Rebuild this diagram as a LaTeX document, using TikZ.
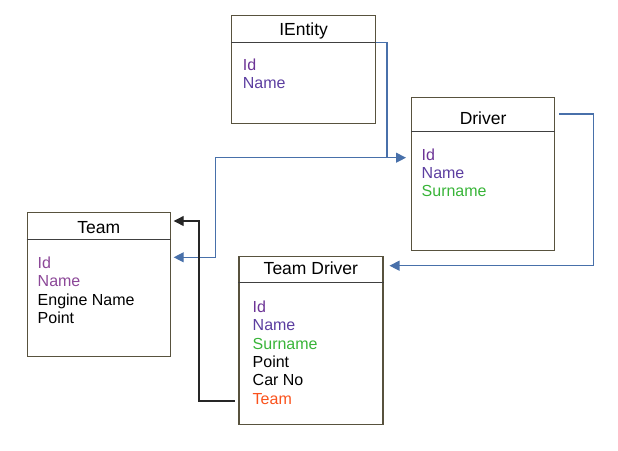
\documentclass[tikz,border=0pt]{standalone}
\usepackage{fontspec}
\setmainfont{Liberation Sans}
\usetikzlibrary{arrows.meta, positioning, calc}

\definecolor{linkblue}{RGB}{72,112,170}
\definecolor{boxline}{RGB}{88,82,62}
\definecolor{idcol}{RGB}{108,52,150}
\definecolor{namecol}{RGB}{92,62,160}
\definecolor{lightcol}{RGB}{140,72,152}
\definecolor{surcol}{RGB}{56,180,56}
\definecolor{teamcol}{RGB}{250,82,28}

\begin{document}
\begin{tikzpicture}[x=1pt, y=-1pt, >={Triangle[length=10pt, width=10pt]}]
        % Styles
        \tikzstyle{classbox} = [rectangle, draw=boxline, line width=1.2pt, inner sep=0pt, anchor=north west]
        \tikzstyle{title} = [font=\fontsize{17.5}{20}\selectfont, anchor=base, inner sep=0pt]
        \tikzstyle{fields} = [font=\fontsize{16}{18.3}\selectfont, align=left, anchor=north west, inner sep=0pt]
        \tikzstyle{sep} = [draw=black!75, line width=1.2pt]
        \tikzstyle{link} = [draw=linkblue, line width=1.2pt, ->]
        \tikzstyle{blacklink} = [draw=black!85, line width=1.2pt, ->]

        \useasboundingbox (0,0) rectangle (618,450);

        % Nodes
        \node (ientity) [classbox, minimum width=144pt, minimum height=107.5pt] at (231,15) {};
        \node (driver) [classbox, minimum width=143pt, minimum height=153pt] at (411,97) {};
        \node (team) [classbox, minimum width=143.5pt, minimum height=144pt] at (26.5,212) {};
        \node (teamdriver) [classbox, minimum width=144pt, minimum height=168.5pt] at (238.3,255.7) {};

        % Headers
        \draw [sep] (ientity.west |- 0,42.3) -- (ientity.east |- 0,42.3);
        \draw [sep] (driver.west |- 0,131.5) -- (driver.east |- 0,131.5);
        \draw [sep] (team.west |- 0,239.3) -- (team.east |- 0,239.3);
        \draw [sep] (teamdriver.west |- 0,282.7) -- (teamdriver.east |- 0,282.7);

        \node (ientitytitle) [title] at (ientity.north |- 0,35.5) {IEntity};
        \node (drivertitle) [title] at (driver.north |- 0,124.5) {Driver};
        \node (teamtitle) [title] at (team.north |- 0,233) {Team};
        \node (teamdrivertitle) [title] at (teamdriver.north |- 0,274) {Team Driver};

        % Fields (top of the first line)
        \node (ientityfields) [fields] at (242.7,58.5) {\textcolor{idcol}{Id}\\\textcolor{namecol}{Name}};
        \node (driverfields) [fields] at (421.5,148.5) {\textcolor{idcol}{Id}\\\textcolor{namecol}{Name}\\\textcolor{surcol}{Surname}};
        \node (teamfields) [fields] at (37.5,256.8) {\textcolor{lightcol}{Id}\\\textcolor{lightcol}{Name}\\Engine Name\\Point};
        \node (teamdriverfields) [fields] at (252.5,300.8) {\textcolor{idcol}{Id}\\\textcolor{namecol}{Name}\\\textcolor{surcol}{Surname}\\Point\\Car No\\\textcolor{teamcol}{Team}};

        % Edges
        \coordinate (junction) at (387,157.7);
        % IEntity -> Driver
        \path [link] (ientity.east |- 0,42.3) -| (junction) -- ($(driver.west |- junction)+(-5,0)$);
        % junction -> Team
        \path [link] (junction) -| (215.7,257.3) -- ($(team.east |- 0,257.3)+(2.5,0)$);
        % Driver -> Team Driver
        \path [link] ($(driver.east |- 0,114)+(4,0)$) -| (593.5,265.7) -- ($(teamdriver.east |- 0,265.7)+(6,0)$);
        % Team Driver -> Team
        \path [blacklink] ($(teamdriver.west |- 0,401)+(-3.5,0)$) -| (199,221) -- ($(team.east |- 0,221)+(2.5,0)$);

    \end{tikzpicture}
\end{document}
